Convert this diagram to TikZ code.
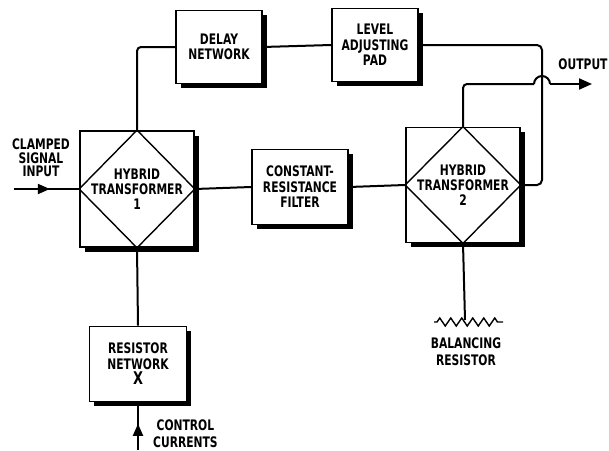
\documentclass[tikz,border=0pt]{standalone}
\usepackage{fontspec}
\setmainfont{DejaVu Sans}[FakeStretch=0.74]
\usetikzlibrary{shadows,decorations.pathmorphing,decorations.markings,arrows.meta}
\begin{document}
\begin{tikzpicture}[x=1pt,y=-1pt,
  lbl/.style={font=\fontsize{14.5}{13.5}\selectfont\bfseries, align=center, inner sep=0pt},
  blk/.style={draw, line width=1.7pt, fill=white, align=center, inner sep=0pt,
    font=\fontsize{14.5}{15.5}\selectfont\bfseries,
    drop shadow={shadow xshift=4.5pt, shadow yshift=-4.5pt, fill=black, opacity=1}},
  wire/.style={line width=2pt},
  midarrow/.style={decoration={markings, mark=at position #1 with {\arrow{Triangle[length=12pt,width=10pt]}}}, postaction={decorate}}
]
\useasboundingbox (0,0) rectangle (609,450);
% blocks
\node[blk, minimum width=114pt, minimum height=116pt] (h1) at (137,189) {};
\node[blk, minimum width=114pt, minimum height=115pt] (h2) at (463,185) {};
\node[blk, minimum width=86pt, minimum height=73pt] (delay) at (219,47) {DELAY\\NETWORK};
\node[blk, minimum width=86pt, minimum height=73pt] (pad) at (375,45) {LEVEL\\ADJUSTING\\PAD};
\node[blk, minimum width=96pt, minimum height=75pt] (filt) at (300,187) {CONSTANT-\\RESISTANCE\\FILTER};
\node[blk, minimum width=97pt, minimum height=75pt] (resx) at (138,364) {RESISTOR\\NETWORK\\{\fontsize{17.5}{16}\selectfont X}};
% diamonds
\draw[line width=1.4pt] (h1.north) -- (h1.east) -- (h1.south) -- (h1.west) -- cycle;
\draw[line width=1.4pt] (h2.north) -- (h2.east) -- (h2.south) -- (h2.west) -- cycle;
\node[lbl, font=\fontsize{14.5}{15}\selectfont\bfseries] (h1t) at (h1.center) {HYBRID\\TRANSFORMER\\1};
\node[lbl, font=\fontsize{14.5}{15}\selectfont\bfseries] (h2t) at (h2.center) {HYBRID\\TRANSFORMER\\2};
% coordinates
\coordinate (in) at (14,189);
\coordinate (turn) at (542,185);
\coordinate (hopL) at (534,84);
\coordinate (hopR) at (550,84);
\coordinate (out) at (592,84);
\coordinate (bal) at (465,320);
\coordinate (zl) at (434,322);
\coordinate (zr) at (503,322);
\coordinate (cc) at (138,450);
% connectors
\draw[wire, midarrow=0.55] (in) -- (h1.west);
\draw[wire, rounded corners=4pt] (h1.north) |- (delay.west);
\draw[wire] (delay.east) -- (pad.west);
\draw[wire, rounded corners=5pt] (pad.east) -| (turn) -- (h2.east);
\draw[wire] (h1.east) -- (filt.west);
\draw[wire] (filt.east) -- (h2.west);
\draw[wire, rounded corners=4pt] (h2.north) |- (hopL);
\draw[wire] (hopL) arc[start angle=180, end angle=0, radius=8pt];
\draw[wire, -{Triangle[length=13pt,width=11pt]}] (hopR) -- (out);
\draw[wire] (h2.south) -- (bal);
\draw[line width=1.4pt, decorate, decoration={zigzag, segment length=11pt, amplitude=4pt, pre length=3pt, post length=3pt}] (zl) -- (zr);
\draw[wire] (h1.south) -- (resx.north);
\draw[wire, midarrow=0.55] (cc) -- (resx.south);
% labels
\node[lbl] (lin) at (41,158) {CLAMPED\\SIGNAL\\INPUT};
\node[lbl] (lout) at (583,64) {OUTPUT};
\node[lbl, font=\fontsize{14.5}{17}\selectfont\bfseries] (lbal) at (466,352) {BALANCING\\RESISTOR};
\node[lbl, anchor=west, font=\fontsize{14.5}{17}\selectfont\bfseries] (lcc) at (153,434) {CONTROL\\CURRENTS};
\end{tikzpicture}
\end{document}
